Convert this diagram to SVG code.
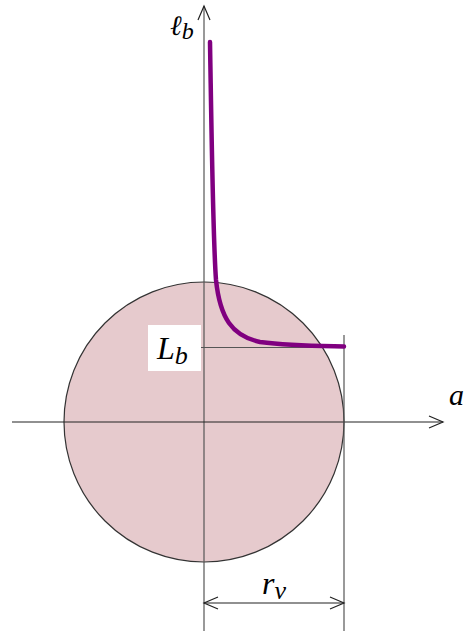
<svg xmlns="http://www.w3.org/2000/svg" width="465" height="631" viewBox="0 0 465 631">
<style>
.ax{stroke:#222;stroke-width:1.2;fill:none}
.gl{stroke:#555;stroke-width:1.2;fill:none}
.ah{stroke:#222;stroke-width:1.2;fill:none}
.t{font-family:'Liberation Serif',serif;font-style:italic}
</style>
<rect width="465" height="631" fill="#fff"/>
<g id="disk">
<circle cx="204" cy="422" r="140" fill="#e6cacd" stroke="#333" stroke-width="1.2"/>
</g>
<g id="connectors">
<line class="gl" x1="204" y1="631" x2="204" y2="6"/>
<polyline class="ah" points="198,20 204,6 210,20"/>
<line class="ax" x1="12" y1="422" x2="443" y2="422"/>
<polyline class="ah" points="429,416 443,422 429,428"/>
<line class="gl" x1="201" y1="347.5" x2="344" y2="347.5"/>
<line class="gl" x1="344" y1="335" x2="344" y2="631"/>
<line class="ax" x1="204" y1="603" x2="344" y2="603"/>
<polyline class="ah" points="218,597 204,603 218,609"/>
<polyline class="ah" points="330,597 344,603 330,609"/>
</g>
<g id="curve">
<path d="M210,42 C212,160 213,240 216,280 C220,318 232,336 260,342 C290,346 320,346 344,346.5" fill="none" stroke="#800080" stroke-width="4.5" stroke-linecap="round"/>
</g>
<g id="label-lb-axis">
<text class="t" x="170" y="35" style="font-size:28px">ℓ<tspan dy="4" style="font-size:24px">b</tspan></text>
</g>
<g id="label-Lb">
<rect x="148" y="325" width="53" height="46" fill="#fff"/>
<text class="t" x="157" y="359" style="font-size:32px">L<tspan dy="5" style="font-size:26px">b</tspan></text>
</g>
<g id="label-a">
<text class="t" x="449" y="405" style="font-size:30px">a</text>
</g>
<g id="label-rv">
<text class="t" x="262" y="594" style="font-size:32px">r<tspan dy="5" style="font-size:26px">v</tspan></text>
</g>
</svg>
